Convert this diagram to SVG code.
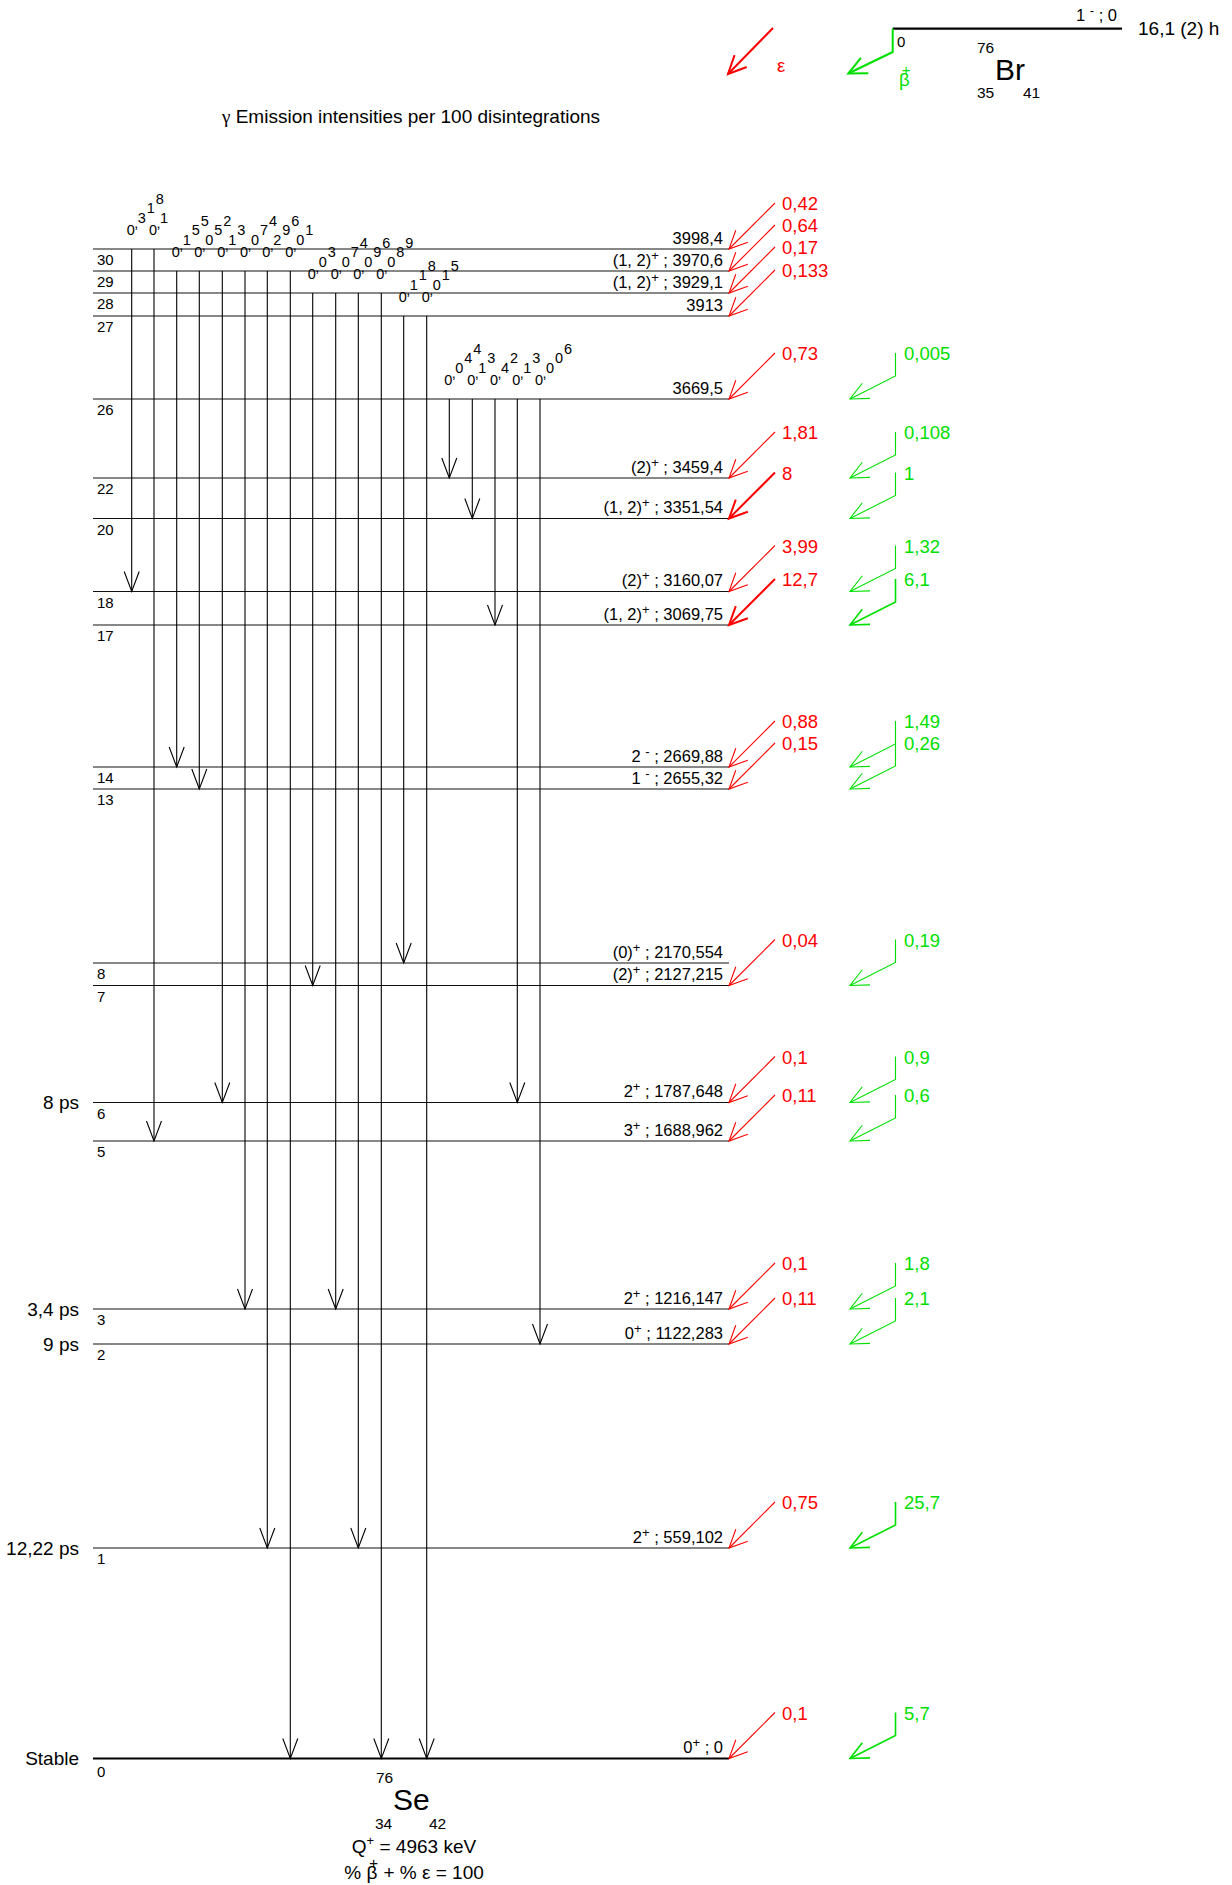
<svg xmlns="http://www.w3.org/2000/svg" width="1232" height="1885" viewBox="0 0 1232 1885">
<style>
text{font-family:"Liberation Sans",Arial,sans-serif;fill:#000}
.lvl{stroke:#111;stroke-width:1.2;fill:none}
.lvl0{stroke:#000;stroke-width:2.2;fill:none}
.rl{font-size:16.5px;text-anchor:end}
.sup{font-size:13px}
.num{font-size:15px}
.left{font-size:19px;text-anchor:end}
.gl{font-size:14.5px;text-anchor:middle}
.gam{stroke:#000;stroke-width:1.1;fill:none;marker-end:url(#ga)}
.red{stroke:#ff0000;stroke-width:1.1;fill:none;marker-end:url(#ra)}
.redb{stroke:#ff0000;stroke-width:2;fill:none;marker-end:url(#rab)}
.grn{stroke:#00e000;stroke-width:1.1;fill:none;marker-end:url(#gr)}
.grnb{stroke:#00e000;stroke-width:1.6;fill:none;marker-end:url(#grb)}
.grnl{stroke:#00e000;stroke-width:2;fill:none;marker-end:url(#grl)}
.rt{font-size:18.5px;fill:#ff0000}
.gt{font-size:18.5px;fill:#00e000}
.big{font-size:19px}
.iso{font-size:30px}
.z{font-size:15.5px}
</style>
<defs>
<marker id="ga" viewBox="-22 -10 24 20" refX="0" refY="0" markerWidth="24" markerHeight="20" markerUnits="userSpaceOnUse" orient="auto" overflow="visible"><path d="M-20,-7.5 L0,0 L-20,7.5" fill="none" stroke="#000" stroke-width="1.1"/></marker>
<marker id="ra" viewBox="-22 -10 24 20" refX="0" refY="0" markerWidth="24" markerHeight="20" markerUnits="userSpaceOnUse" orient="auto" overflow="visible"><path d="M-18.1,-8.5 L0,0 L-18.1,8.5" fill="none" stroke="#ff0000" stroke-width="1.1"/></marker>
<marker id="rab" viewBox="-22 -10 24 20" refX="0" refY="0" markerWidth="24" markerHeight="20" markerUnits="userSpaceOnUse" orient="auto" overflow="visible"><path d="M-18.1,-8.5 L0,0 L-18.1,8.5" fill="none" stroke="#ff0000" stroke-width="2"/></marker>
<marker id="gr" viewBox="-22 -10 24 20" refX="0" refY="0" markerWidth="24" markerHeight="20" markerUnits="userSpaceOnUse" orient="auto" overflow="visible"><path d="M-18.1,-8.5 L0,0 L-18.1,8.5" fill="none" stroke="#00e000" stroke-width="1.1"/></marker>
<marker id="grb" viewBox="-22 -10 24 20" refX="0" refY="0" markerWidth="24" markerHeight="20" markerUnits="userSpaceOnUse" orient="auto" overflow="visible"><path d="M-18.1,-8.5 L0,0 L-18.1,8.5" fill="none" stroke="#00e000" stroke-width="1.6"/></marker>
<marker id="grl" viewBox="-22 -10 24 20" refX="0" refY="0" markerWidth="24" markerHeight="20" markerUnits="userSpaceOnUse" orient="auto" overflow="visible"><path d="M-18.1,-8.5 L0,0 L-18.1,8.5" fill="none" stroke="#00e000" stroke-width="2"/></marker>
</defs>
<rect width="1232" height="1885" fill="#fff"/>

<!-- Parent nucleus -->
<g id="parent-br76">
<path d="M892.7,28.7 H1122" stroke="#000" stroke-width="2.2" fill="none"/>
<text class="rl" x="1117" y="21">1 <tspan class="sup" dy="-6">-</tspan><tspan dy="6"> ; 0</tspan></text>
<text class="big" x="1138" y="35">16,1 (2) h</text>
<text class="num" x="897" y="46.5">0</text>
<text class="z" x="977" y="53">76</text>
<text class="iso" x="995" y="80">Br</text>
<text class="z" x="977" y="98">35</text>
<text class="z" x="1023" y="98">41</text>
</g>

<g id="legend">
<path class="redb" d="M773,28 L728,74"/>
<text class="rt" x="777" y="72">ε</text>
<path class="grnl" d="M892.7,28.7 V52 L848.3,73.5"/>
<text class="gt" x="899" y="86">β<tspan dx="-8" dy="-11" font-size="15">+</tspan></text>
</g>

<text id="title" class="big" x="222" y="123"><tspan font-family="Liberation Serif,serif">γ</tspan> Emission intensities per 100 disintegrations</text>

<!-- Levels -->
<g id="level-30"><path class="lvl" d="M93,249 H729"/><text class="num" x="97" y="265">30</text><text class="rl" x="723" y="243.5">3998,4</text></g>
<g id="level-29"><path class="lvl" d="M93,271 H729"/><text class="num" x="97" y="287">29</text><text class="rl" x="723" y="265.5">(1, 2)<tspan class="sup" dy="-6">+</tspan><tspan dy="6"> ; 3970,6</tspan></text></g>
<g id="level-28"><path class="lvl" d="M93,293 H729"/><text class="num" x="97" y="309">28</text><text class="rl" x="723" y="287.5">(1, 2)<tspan class="sup" dy="-6">+</tspan><tspan dy="6"> ; 3929,1</tspan></text></g>
<g id="level-27"><path class="lvl" d="M93,316 H729"/><text class="num" x="97" y="332">27</text><text class="rl" x="723" y="310.5">3913</text></g>
<g id="level-26"><path class="lvl" d="M93,399 H729"/><text class="num" x="97" y="415">26</text><text class="rl" x="723" y="393.5">3669,5</text></g>
<g id="level-22"><path class="lvl" d="M93,478 H729"/><text class="num" x="97" y="494">22</text><text class="rl" x="723" y="472.5">(2)<tspan class="sup" dy="-6">+</tspan><tspan dy="6"> ; 3459,4</tspan></text></g>
<g id="level-20"><path class="lvl" d="M93,518.5 H729"/><text class="num" x="97" y="534.5">20</text><text class="rl" x="723" y="513">(1, 2)<tspan class="sup" dy="-6">+</tspan><tspan dy="6"> ; 3351,54</tspan></text></g>
<g id="level-18"><path class="lvl" d="M93,591.5 H729"/><text class="num" x="97" y="607.5">18</text><text class="rl" x="723" y="586">(2)<tspan class="sup" dy="-6">+</tspan><tspan dy="6"> ; 3160,07</tspan></text></g>
<g id="level-17"><path class="lvl" d="M93,625 H729"/><text class="num" x="97" y="641">17</text><text class="rl" x="723" y="619.5">(1, 2)<tspan class="sup" dy="-6">+</tspan><tspan dy="6"> ; 3069,75</tspan></text></g>
<g id="level-14"><path class="lvl" d="M93,767 H729"/><text class="num" x="97" y="783">14</text><text class="rl" x="723" y="761.5">2 <tspan class="sup" dy="-6">-</tspan><tspan dy="6"> ; 2669,88</tspan></text></g>
<g id="level-13"><path class="lvl" d="M93,789 H729"/><text class="num" x="97" y="805">13</text><text class="rl" x="723" y="783.5">1 <tspan class="sup" dy="-6">-</tspan><tspan dy="6"> ; 2655,32</tspan></text></g>
<g id="level-8"><path class="lvl" d="M93,963 H729"/><text class="num" x="97" y="979">8</text><text class="rl" x="723" y="957.5">(0)<tspan class="sup" dy="-6">+</tspan><tspan dy="6"> ; 2170,554</tspan></text></g>
<g id="level-7"><path class="lvl" d="M93,985.5 H729"/><text class="num" x="97" y="1001.5">7</text><text class="rl" x="723" y="980">(2)<tspan class="sup" dy="-6">+</tspan><tspan dy="6"> ; 2127,215</tspan></text></g>
<g id="level-6"><path class="lvl" d="M93,1102.5 H729"/><text class="num" x="97" y="1118.5">6</text><text class="rl" x="723" y="1097">2<tspan class="sup" dy="-6">+</tspan><tspan dy="6"> ; 1787,648</tspan></text><text class="left" x="79" y="1109">8 ps</text></g>
<g id="level-5"><path class="lvl" d="M93,1141 H729"/><text class="num" x="97" y="1157">5</text><text class="rl" x="723" y="1135.5">3<tspan class="sup" dy="-6">+</tspan><tspan dy="6"> ; 1688,962</tspan></text></g>
<g id="level-3"><path class="lvl" d="M93,1309 H729"/><text class="num" x="97" y="1325">3</text><text class="rl" x="723" y="1303.5">2<tspan class="sup" dy="-6">+</tspan><tspan dy="6"> ; 1216,147</tspan></text><text class="left" x="79" y="1315.5">3,4 ps</text></g>
<g id="level-2"><path class="lvl" d="M93,1344 H729"/><text class="num" x="97" y="1360">2</text><text class="rl" x="723" y="1338.5">0<tspan class="sup" dy="-6">+</tspan><tspan dy="6"> ; 1122,283</tspan></text><text class="left" x="79" y="1350.5">9 ps</text></g>
<g id="level-1"><path class="lvl" d="M93,1548 H729"/><text class="num" x="97" y="1564">1</text><text class="rl" x="723" y="1542.5">2<tspan class="sup" dy="-6">+</tspan><tspan dy="6"> ; 559,102</tspan></text><text class="left" x="79" y="1554.5">12,22 ps</text></g>
<g id="level-0"><path class="lvl0" d="M93,1758.5 H729"/><text class="num" x="97" y="1776.5">0</text><text class="rl" x="723" y="1753">0<tspan class="sup" dy="-6">+</tspan><tspan dy="6"> ; 0</tspan></text><text class="left" x="79" y="1765">Stable</text></g>

<!-- Daughter nucleus -->
<g id="daughter-se76">
<text class="z" x="376" y="1783">76</text>
<text class="iso" x="393" y="1810">Se</text>
<text class="z" x="375" y="1829">34</text>
<text class="z" x="429" y="1829">42</text>
<text class="big" x="414" y="1853" text-anchor="middle">Q<tspan font-size="13" dy="-8">+</tspan><tspan dy="8"> = 4963 keV</tspan></text>
<text class="big" x="414" y="1879" text-anchor="middle">% β<tspan font-size="15" dx="-8" dy="-11">+</tspan><tspan dy="11"> + % ε  = 100</tspan></text>
</g>

<!-- Connectors -->
<g id="transitions">
<g id="gamma">
<path class="gam" d="M131.7,249 V591.5"/>
<path class="gam" d="M154,249 V1141"/>
<path class="gam" d="M176.7,271 V767"/>
<path class="gam" d="M199.3,271 V789"/>
<path class="gam" d="M222.3,271 V1102.5"/>
<path class="gam" d="M245,271 V1309"/>
<path class="gam" d="M267.3,271 V1548"/>
<path class="gam" d="M290.3,271 V1758.5"/>
<path class="gam" d="M312.7,293 V985.5"/>
<path class="gam" d="M335.7,293 V1309"/>
<path class="gam" d="M358.3,293 V1548"/>
<path class="gam" d="M381.3,293 V1758.5"/>
<path class="gam" d="M403.7,316 V963"/>
<path class="gam" d="M426.7,316 V1758.5"/>
<path class="gam" d="M449.3,399 V478"/>
<path class="gam" d="M472.3,399 V518.5"/>
<path class="gam" d="M495,399 V625"/>
<path class="gam" d="M517.3,399 V1102.5"/>
<path class="gam" d="M540,399 V1344"/>
</g>
<g id="gamma-labels">
<text class="gl" x="130.7 136.2 141.7 150.7 159.7" y="235 228 223 213 204">0,318</text>
<text class="gl" x="153 158.5 164" y="235 228 223">0,1</text>
<text class="gl" x="175.7 181.2 186.7 195.7 204.7" y="257 250 245 235 226">0,155</text>
<text class="gl" x="198.3 203.8 209.3 218.3 227.3" y="257 250 245 235 226">0,052</text>
<text class="gl" x="221.3 226.8 232.3 241.3" y="257 250 245 235">0,13</text>
<text class="gl" x="244 249.5 255 264 273" y="257 250 245 235 226">0,074</text>
<text class="gl" x="266.3 271.8 277.3 286.3 295.3" y="257 250 245 235 226">0,296</text>
<text class="gl" x="289.3 294.8 300.3 309.3" y="257 250 245 235">0,01</text>
<text class="gl" x="311.7 317.2 322.7 331.7" y="279 272 267 257">0,03</text>
<text class="gl" x="334.7 340.2 345.7 354.7 363.7" y="279 272 267 257 248">0,074</text>
<text class="gl" x="357.3 362.8 368.3 377.3 386.3" y="279 272 267 257 248">0,096</text>
<text class="gl" x="380.3 385.8 391.3 400.3 409.3" y="279 272 267 257 248">0,089</text>
<text class="gl" x="402.7 408.2 413.7 422.7 431.7" y="302 295 290 280 271">0,118</text>
<text class="gl" x="425.7 431.2 436.7 445.7 454.7" y="302 295 290 280 271">0,015</text>
<text class="gl" x="448.3 453.8 459.3 468.3 477.3" y="385 378 373 363 354">0,044</text>
<text class="gl" x="471.3 476.8 482.3 491.3" y="385 378 373 363">0,13</text>
<text class="gl" x="494 499.5 505 514" y="385 378 373 363">0,42</text>
<text class="gl" x="516.3 521.8 527.3 536.3" y="385 378 373 363">0,13</text>
<text class="gl" x="539 544.5 550 559 568" y="385 378 373 363 354">0,006</text>
</g>
<g id="ec-feeding">
<path class="red" d="M775,203 L729,249"/><text class="rt" x="782" y="210">0,42</text>
<path class="red" d="M775,225 L729,271"/><text class="rt" x="782" y="232">0,64</text>
<path class="red" d="M775,247 L729,293"/><text class="rt" x="782" y="254">0,17</text>
<path class="red" d="M775,270 L729,316"/><text class="rt" x="782" y="277">0,133</text>
<path class="red" d="M775,353 L729,399"/><text class="rt" x="782" y="360">0,73</text>
<path class="red" d="M775,432 L729,478"/><text class="rt" x="782" y="439">1,81</text>
<path class="redb" d="M775,472.5 L729,518.5"/><text class="rt" x="782" y="479.5">8</text>
<path class="red" d="M775,545.5 L729,591.5"/><text class="rt" x="782" y="552.5">3,99</text>
<path class="redb" d="M775,579 L729,625"/><text class="rt" x="782" y="586">12,7</text>
<path class="red" d="M775,721 L729,767"/><text class="rt" x="782" y="728">0,88</text>
<path class="red" d="M775,743 L729,789"/><text class="rt" x="782" y="750">0,15</text>
<path class="red" d="M775,939.5 L729,985.5"/><text class="rt" x="782" y="946.5">0,04</text>
<path class="red" d="M775,1056.5 L729,1102.5"/><text class="rt" x="782" y="1063.5">0,1</text>
<path class="red" d="M775,1095 L729,1141"/><text class="rt" x="782" y="1102">0,11</text>
<path class="red" d="M775,1263 L729,1309"/><text class="rt" x="782" y="1270">0,1</text>
<path class="red" d="M775,1298 L729,1344"/><text class="rt" x="782" y="1305">0,11</text>
<path class="red" d="M775,1502 L729,1548"/><text class="rt" x="782" y="1509">0,75</text>
<path class="red" d="M775,1712.5 L729,1758.5"/><text class="rt" x="782" y="1719.5">0,1</text>
</g>
<g id="beta-plus-feeding">
<path class="grn" d="M895.5,353 V376 L850,399"/><text class="gt" x="904" y="360">0,005</text>
<path class="grn" d="M895.5,432 V455 L850,478"/><text class="gt" x="904" y="439">0,108</text>
<path class="grn" d="M895.5,472.5 V495.5 L850,518.5"/><text class="gt" x="904" y="479.5">1</text>
<path class="grn" d="M895.5,545.5 V568.5 L850,591.5"/><text class="gt" x="904" y="552.5">1,32</text>
<path class="grnb" d="M895.5,579 V602 L850,625"/><text class="gt" x="904" y="586">6,1</text>
<path class="grn" d="M895.5,721 V744 L850,767"/><text class="gt" x="904" y="728">1,49</text>
<path class="grn" d="M895.5,743 V766 L850,789"/><text class="gt" x="904" y="750">0,26</text>
<path class="grn" d="M895.5,939.5 V962.5 L850,985.5"/><text class="gt" x="904" y="946.5">0,19</text>
<path class="grn" d="M895.5,1056.5 V1079.5 L850,1102.5"/><text class="gt" x="904" y="1063.5">0,9</text>
<path class="grn" d="M895.5,1095 V1118 L850,1141"/><text class="gt" x="904" y="1102">0,6</text>
<path class="grn" d="M895.5,1263 V1286 L850,1309"/><text class="gt" x="904" y="1270">1,8</text>
<path class="grn" d="M895.5,1298 V1321 L850,1344"/><text class="gt" x="904" y="1305">2,1</text>
<path class="grnb" d="M895.5,1502 V1525 L850,1548"/><text class="gt" x="904" y="1509">25,7</text>
<path class="grnb" d="M895.5,1712.5 V1735.5 L850,1758.5"/><text class="gt" x="904" y="1719.5">5,7</text>
</g>
</g>
</svg>
